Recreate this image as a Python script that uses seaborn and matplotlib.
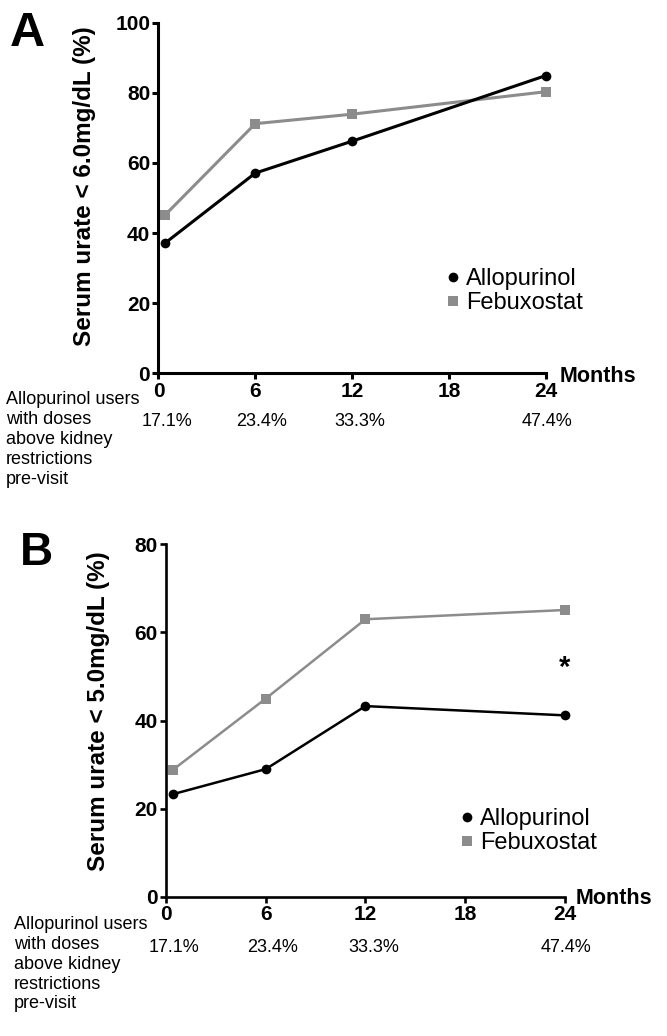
import numpy as np
import pandas as pd
import matplotlib
matplotlib.use('Agg')
import matplotlib.pyplot as plt
import matplotlib.transforms as mtransforms
from matplotlib.lines import Line2D
import seaborn as sns

# Données
months = [0.4, 6, 12, 24]
allo_6 = [37.1, 57.1, 66.2, 84.9]   # urate < 6.0 mg/dL
febu_6 = [45.1, 71.2, 73.9, 80.3]
allo_5 = [23.3, 29.0, 43.3, 41.2]   # urate < 5.0 mg/dL
febu_5 = [28.8, 45.0, 63.0, 65.1]
month_ticks = [0, 6, 12, 18, 24]
dose_pct = ['17.1%', '23.4%', '33.3%', '47.4%']
dose_month = [0.5, 6.4, 12.5, 24.1]
drugs = ['Allopurinol', 'Febuxostat']
star_month = 24
star_value = 52

colors = {'Allopurinol': 'black', 'Febuxostat': '#8c8c8c'}
markers = {'Allopurinol': 'o', 'Febuxostat': 's'}

sns.set_theme(style='ticks')
plt.rcParams['font.family'] = ['Liberation Sans', 'DejaVu Sans']
plt.rcParams['text.color'] = 'black'
plt.rcParams['axes.labelcolor'] = 'black'

fig = plt.figure(figsize=(6.67, 10.36), dpi=100)
axA = fig.add_axes([0.2376, 0.6397, 0.5805, 0.3384])
axB = fig.add_axes([0.2489, 0.1342, 0.5979, 0.3404])


def draw_panel(ax, allo, febu, ymax, ylabel, lw, spine_w, label_xy, leg_xy, pct_y, months_xy):
    df = pd.DataFrame({
        'month': months * 2,
        'pct': allo + febu,
        'drug': ['Allopurinol'] * len(months) + ['Febuxostat'] * len(months),
    })
    sns.lineplot(data=df, x='month', y='pct', hue='drug', style='drug',
                 hue_order=['Febuxostat', 'Allopurinol'], style_order=['Febuxostat', 'Allopurinol'],
                 markers=markers, dashes=False, palette=colors, linewidth=lw,
                 markersize=7, markeredgewidth=0, legend=False, ax=ax, clip_on=False)
    ax.set_xlim(0, 24)
    ax.set_ylim(0, ymax)
    ax.set_xticks(month_ticks)
    ax.set_yticks(np.arange(0, ymax + 1, 20))
    ax.set_xlabel('')
    ax.set_ylabel(ylabel, fontsize=17.5, fontweight='bold')
    ax.yaxis.set_label_coords(*label_xy)
    sns.despine(ax=ax)
    for s in ['left', 'bottom']:
        ax.spines[s].set_linewidth(spine_w)
        ax.spines[s].set_color('black')
    ax.tick_params(axis='both', length=4, width=spine_w, color='black', pad=2,
                   labelsize=15, labelcolor='black')
    for t in ax.get_xticklabels() + ax.get_yticklabels():
        t.set_fontweight('bold')

    ax.text(months_xy[0], months_xy[1], 'Months', transform=ax.transAxes,
            fontsize=15.5, fontweight='bold', va='center', ha='left')

    handles = [Line2D([], [], marker=markers[d], color=colors[d], linestyle='none',
                      markersize=7, markeredgewidth=0) for d in drugs]
    ax.legend(handles, drugs, loc='upper left', bbox_to_anchor=leg_xy, frameon=False,
              fontsize=17, borderpad=0, handlelength=0.5, handletextpad=0.3,
              labelspacing=0.1, borderaxespad=0, labelcolor='black')

    trans = mtransforms.blended_transform_factory(ax.transData, ax.transAxes)
    for m, p in zip(dose_month, dose_pct):
        ax.text(m, pct_y, p, transform=trans, fontsize=13, ha='center', va='center')


draw_panel(axA, allo_6, febu_6, 100, 'Serum urate < 6.0mg/dL (%)', 2.2, 2.2,
           (-0.161, 0.534), (0.745, 0.30), -0.138, (1.037, -0.008))
draw_panel(axB, allo_5, febu_5, 80, 'Serum urate < 5.0mg/dL (%)', 1.8, 1.9,
           (-0.140, 0.526), (0.74, 0.252), -0.1446, (1.028, -0.005))

axB.text(star_month, star_value, '*', fontsize=21, fontweight='bold', ha='center', va='center')

note = 'Allopurinol users\nwith doses\nabove kidney\nrestrictions\npre-visit'
fig.text(6 / 667, 0.6225, note, fontsize=13, va='top', ha='left', linespacing=1.22)
fig.text(14 / 667, 0.1158, note, fontsize=13, va='top', ha='left', linespacing=1.22)

fig.text(10 / 667, 0.956, 'A', fontsize=35, fontweight='bold', va='baseline')
fig.text(20 / 667, 0.4546, 'B', fontsize=33, fontweight='bold', va='baseline')

plt.savefig('out.png', dpi=100)
